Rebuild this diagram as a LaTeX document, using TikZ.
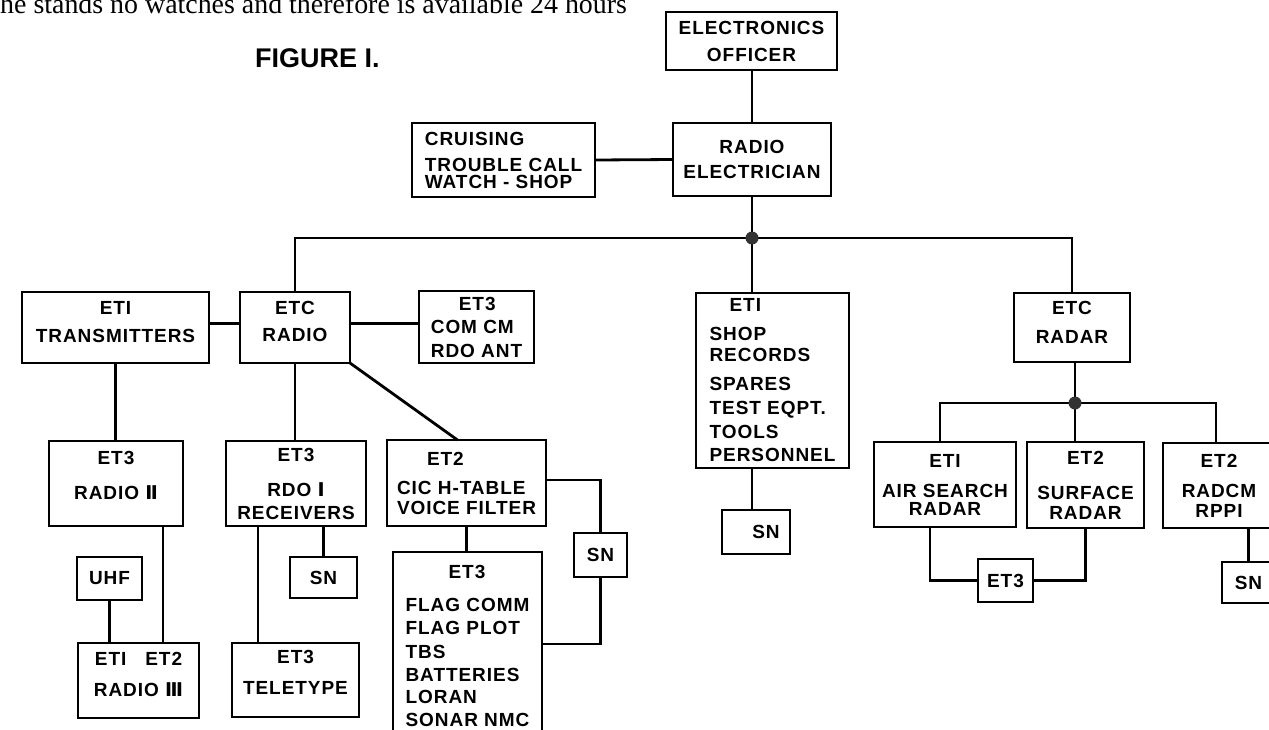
\documentclass[tikz,border=0pt]{standalone}
\usepackage{fontspec}
\usepackage{tikz}
\usetikzlibrary{positioning}
\newfontfamily\lettering[LetterSpace=5]{Liberation Sans}
\newfontfamily\plainlettering{Liberation Sans}
\newfontfamily\numeral{DejaVu Sans}
\newfontfamily\bookface{Liberation Serif}
\newcommand{\padbelow}[1]{\rule[-#1]{0pt}{#1}}
\newcommand{\rnum}[1]{{\numeral\bfseries #1}}

\begin{document}
\begin{tikzpicture}[x=1pt,y=-1pt,
	box/.style={draw,line width=1.8pt,inner sep=0pt,outer sep=0pt,align=center,
		font=\lettering\bfseries\fontsize{19}{17}\selectfont},
	lbox/.style={box,align=left},
	wh/.style 2 args={minimum width=#1,minimum height=#2},
	wire/.style={line width=2.8pt},
	dot/.style={circle,fill=black!80,inner sep=0pt,minimum size=13pt}]
	\useasboundingbox (0,0) rectangle (1269,729);
	\node[anchor=base west,inner sep=0pt,font=\bookface\fontsize{27.9}{30}\selectfont] (note) at (0,13) {he stands no watches and therefore is available 24 hours};
	\node[anchor=base west,inner sep=0pt,font=\plainlettering\bfseries\fontsize{27}{30}\selectfont] (fig) at (255,67) {FIGURE I.};
	\node[box,wh={171}{58}] (eo) at (751.5,41) {ELECTRONICS\\[10pt]OFFICER};
	\node[box,wh={158}{73}] (re) at (752,159.5) {RADIO\\[8pt]ELECTRICIAN};
	\node[lbox,wh={183}{74}] (cruise) at (503.5,160) {CRUISING\\[9pt]TROUBLE CALL\\WATCH - SHOP};
	\node[box,wh={187}{71}] (trans) at (115.5,327.5) {ETI\\[11pt]TRANSMITTERS\padbelow{11pt}};
	\node[box,wh={110}{71}] (radio) at (295,327.5) {ETC\\[10pt]RADIO\padbelow{13pt}};
	\node[lbox,wh={115}{72}] (comcm) at (476.5,327) {\hspace*{28pt}ET3\\[6pt]COM CM\\[7pt]RDO ANT};
	\node[lbox,wh={153}{175}] (shop) at (772.5,380.5) {\hspace*{20pt}ETI\\[12pt]SHOP\\[4pt]RECORDS\\[12pt]SPARES\\[7pt]TEST EQPT.\\[6pt]TOOLS\\[6pt]PERSONNEL};
	\node[box,wh={116}{69}] (radar) at (1072,327.5) {ETC\\[12pt]RADAR\padbelow{10pt}};
	\node[box,wh={134}{85}] (radtwo) at (116,483.5) {ET3\\[18pt]RADIO \rnum{Ⅱ}\padbelow{17pt}};
	\node[box,wh={140}{85}] (rdoone) at (296,483.5) {ET3\\[18pt]RDO \rnum{Ⅰ}\\[6pt]RECEIVERS};
	\node[lbox,wh={159}{86}] (cic) at (466.5,483) {\hspace*{30pt}ET2\\[12pt]CIC H-TABLE\\[3pt]VOICE FILTER};
	\node[box,wh={65}{43}] (uhf) at (109.5,578.5) {UHF};
	\node[box,wh={67}{41}] (snrdo) at (323.5,577.5) {SN};
	\node[box,wh={53}{44}] (sncic) at (600.5,555) {SN};
	\node[lbox,wh={149}{188}] (flag) at (467.5,646) {\hspace*{43pt}ET3\\[16pt]FLAG COMM\\[6pt]FLAG PLOT\\[7pt]TBS\\[6pt]BATTERIES\\[5pt]LORAN\\[6pt]SONAR NMC};
	\node[box,wh={121}{75}] (radthree) at (138.5,680.5) {ETI\quad ET2\\[14pt]RADIO \rnum{Ⅲ}\padbelow{12pt}};
	\node[box,wh={127}{74}] (tty) at (295.5,680) {ET3\\[14pt]TELETYPE\padbelow{16pt}};
	\node[box,wh={68}{44}] (snshop) at (756,532) {\hspace*{20pt}SN};
	\node[box,wh={142}{85}] (air) at (945,484.5) {ETI\\[13pt]AIR SEARCH\\[1pt]RADAR};
	\node[box,wh={117}{86}] (surf) at (1085.5,485) {ET2\\[18pt]SURFACE\\[3pt]RADAR};
	\node[box,wh={112}{85}] (radcm) at (1219,485.5) {ET2\\[13pt]RADCM\\[3pt]RPPI};
	\node[box,wh={53}{41}] (snradcm) at (1248.5,582.5) {SN};
	\node[box,wh={55}{43}] (etthree) at (1005.5,580.5) {ET3};
	\coordinate (hub) at (752,238);
	\coordinate (hubradar) at (1075,403);
	\draw[wire] (eo.south -| re.north) -- (re.north);
	\draw[wire] (cruise.east) -- (re.west);
	\draw[wire] (re.south) -- (re.south |- shop.north);
	\draw[wire] (radio.north) |- (hub) -| (radar.north);
	\draw[wire] ([yshift=4pt]trans.east) -- ([yshift=4pt]radio.west);
	\draw[wire] ([yshift=4pt]radio.east) -- ([yshift=4pt]radio.east -| comcm.west);
	\draw[wire] (trans.south) -- (trans.south |- radtwo.north);
	\draw[wire] (radio.south) -- (radio.south |- rdoone.north);
	\draw[wire] (radio.south east) -- ([xshift=-9pt]cic.north);
	\draw[wire] ([xshift=-20pt]radtwo.south east) -- ([xshift=-20pt]radtwo.south east |- radthree.north);
	\draw[wire] (uhf.south) -- (uhf.south |- radthree.north);
	\draw[wire] ([xshift=32pt]rdoone.south west) -- ([xshift=32pt]rdoone.south west |- tty.north);
	\draw[wire] (snrdo.north |- rdoone.south) -- (snrdo.north);
	\draw[wire] (cic.south) -- (cic.south |- flag.north);
	\draw[wire] ([yshift=3pt]cic.east) -| (sncic.north);
	\draw[wire] (sncic.south) |- ([yshift=2pt]flag.east);
	\draw[wire] (re.south |- shop.south) -- (re.south |- snshop.north);
	\draw[wire] (hubradar |- radar.south) -- (hubradar |- surf.north);
	\draw[wire] ([xshift=-5pt]air.north) |- (hubradar) -| ([xshift=-3pt]radcm.north);
	\draw[wire] (snradcm.north |- radcm.south) -- (snradcm.north);
	\draw[wire] ([xshift=-15pt]air.south) |- (etthree.west);
	\draw[wire] (etthree.east) -| (surf.south);
	\node[dot] (hubdot) at (hub) {};
	\node[dot] (hubradardot) at (hubradar) {};
\end{tikzpicture}
\end{document}
